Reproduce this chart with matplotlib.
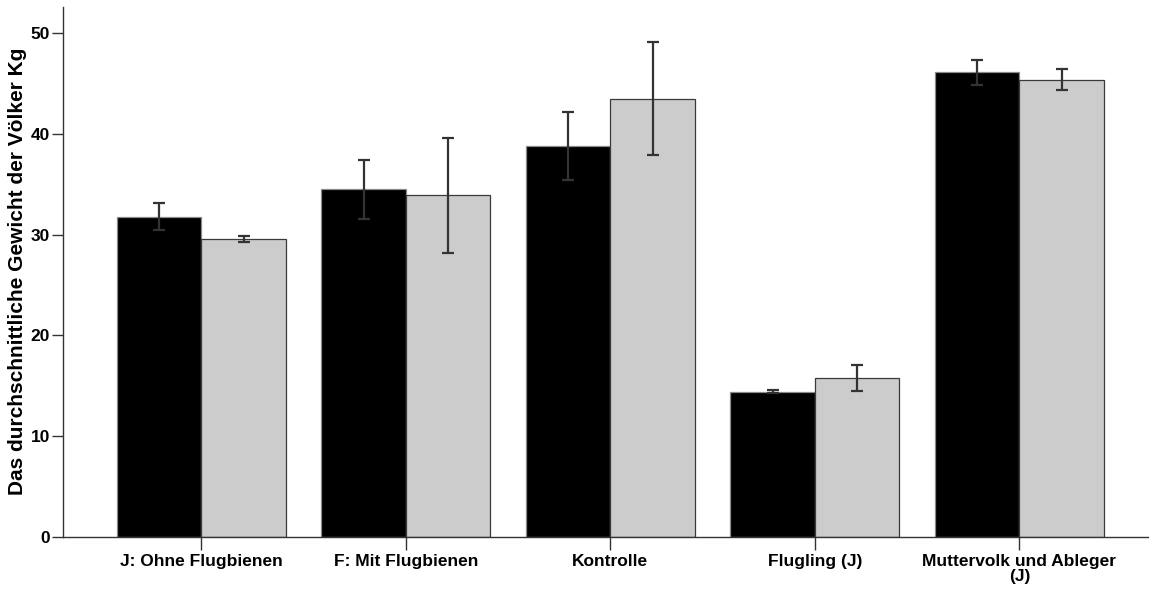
import matplotlib
matplotlib.use("Agg")
import matplotlib.pyplot as plt
import numpy as np

categories = ["J: Ohne Flugbienen", "F: Mit Flugbienen", "Kontrolle",
              "Flugling (J)", "Muttervolk und Ableger\n(J)"]
series_a = [31.8, 34.5, 38.8, 14.4, 46.1]
err_a = [1.3, 2.9, 3.4, 0.15, 1.2]
series_b = [29.6, 33.9, 43.5, 15.8, 45.4]
err_b = [0.3, 5.7, 5.6, 1.3, 1.0]
yticks = [0, 10, 20, 30, 40, 50]
ylabel = "Das durchschnittliche Gewicht der Völker Kg"

plt.rcParams['font.family'] = ['Liberation Sans', 'DejaVu Sans']

fig = plt.figure(figsize=(11.49, 5.90), dpi=100)
ax = fig.add_axes([62.5 / 1149, 53 / 590, (1149 - 62.5) / 1149, (537 - 7) / 590])

x = np.arange(len(categories))
w = 0.413
ax.bar(x - w / 2, series_a, width=w, color='#000000', edgecolor='#8a8a8a', linewidth=0.9, zorder=2)
ax.bar(x + w / 2, series_b, width=w, color='#cccccc', edgecolor='#3a3a3a', linewidth=0.9, zorder=2)
ax.errorbar(x - w / 2, series_a, yerr=err_a, fmt='none', ecolor='#333333', elinewidth=1.6,
            capsize=4.4, capthick=1.6, zorder=3)
ax.errorbar(x + w / 2, series_b, yerr=err_b, fmt='none', ecolor='#333333', elinewidth=1.6,
            capsize=4.4, capthick=1.6, zorder=3)

ax.set_xlim(-0.679, 4.634)
ax.set_ylim(0, 52.6)
ax.set_yticks(yticks)
ax.set_yticklabels([str(t) for t in yticks], fontsize=12.5, fontweight='bold')
ax.set_xticks(x)
ax.set_xticklabels(categories, fontsize=12.5, fontweight='bold', linespacing=1.0)
ax.tick_params(axis='y', length=8, width=1, pad=1, color='#333333')
ax.tick_params(axis='x', length=9, width=1, pad=3, color='#333333')
ax.spines['top'].set_visible(False)
ax.spines['right'].set_visible(False)
for s in ['left', 'bottom']:
    ax.spines[s].set_linewidth(1.0)
    ax.spines[s].set_color('#333333')
ax.set_ylabel(ylabel, fontsize=15, fontweight='bold')
ax.yaxis.set_label_coords(-0.0325, 0.502)

fig.savefig("out.png", dpi=100)
